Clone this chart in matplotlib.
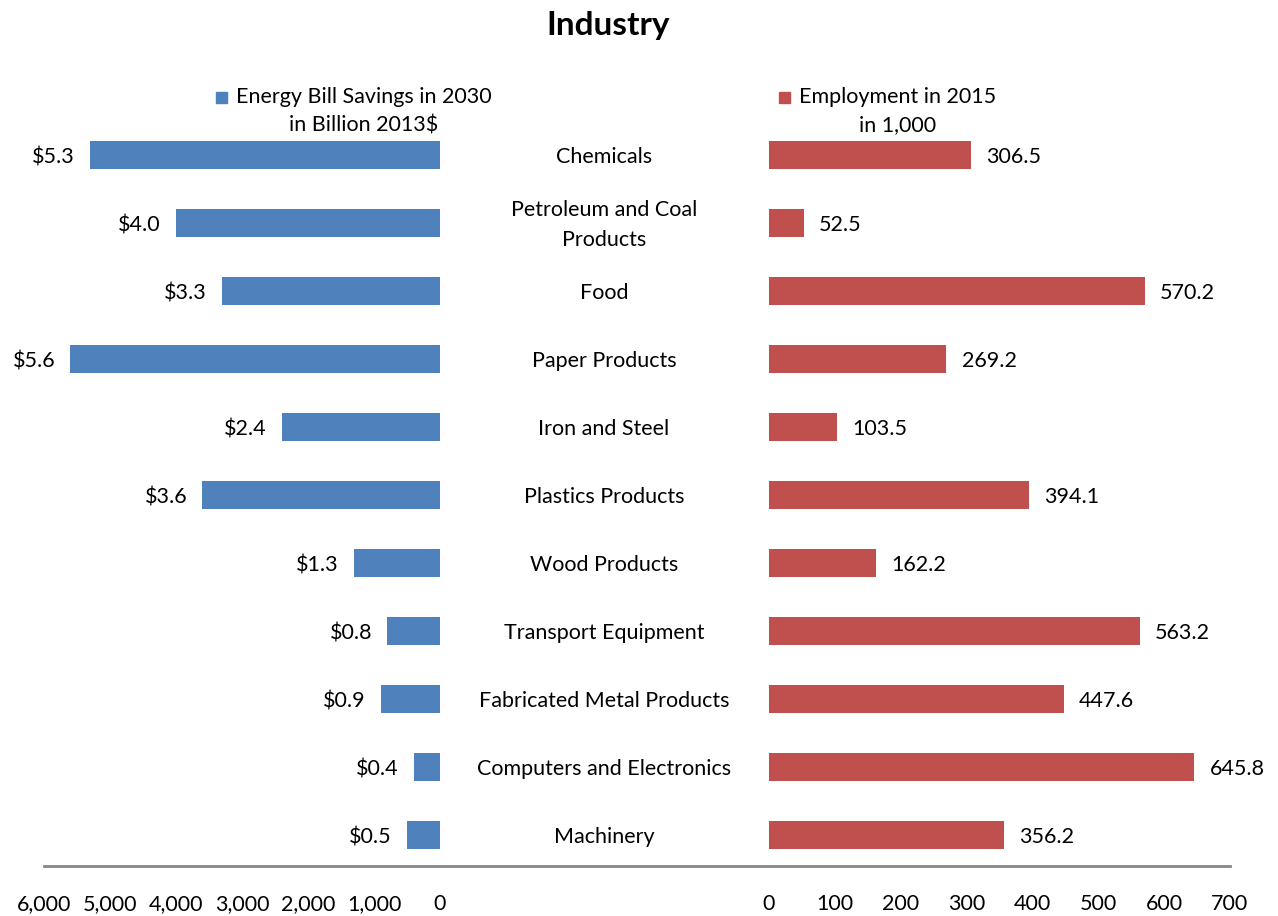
import matplotlib
matplotlib.use("Agg")
import matplotlib.pyplot as plt
from matplotlib.lines import Line2D
from matplotlib.patches import Rectangle
import numpy as np

categories = ["Chemicals", "Petroleum and Coal\nProducts", "Food", "Paper Products",
              "Iron and Steel", "Plastics Products", "Wood Products", "Transport Equipment",
              "Fabricated Metal Products", "Computers and Electronics", "Machinery"]
savings_billion = [5.3, 4.0, 3.3, 5.6, 2.4, 3.6, 1.3, 0.8, 0.9, 0.4, 0.5]
employment_thousand = [306.5, 52.5, 570.2, 269.2, 103.5, 394.1, 162.2, 563.2, 447.6, 645.8, 356.2]
left_ticks = [0, 1000, 2000, 3000, 4000, 5000, 6000]
right_ticks = [0, 100, 200, 300, 400, 500, 600, 700]
legend_left = "Energy Bill Savings in 2030\nin Billion 2013$"
legend_right = "Employment in 2015\nin 1,000"
title = "Industry"

BLUE = "#4F81BD"
RED = "#C0504D"
FONT = "Lato"
FS = 15.5
plt.rcParams['font.family'] = [FONT, 'DejaVu Sans']

W, H = 1278, 916
fig = plt.figure(figsize=(W / 100, H / 100), dpi=100)

def fx(px):
    return px / W

def fy(py):
    return 1 - py / H

top_px, bot_px = 121, 866
y = np.arange(len(categories))
ylim = (10.456, -0.5)

axL = fig.add_axes([fx(44), fy(bot_px), fx(440 - 44), fy(top_px) - fy(bot_px)])
axR = fig.add_axes([fx(769), fy(bot_px), fx(1230 - 769), fy(top_px) - fy(bot_px)])

vals_m = np.array(savings_billion) * 1000
axL.barh(y, vals_m, height=0.41, color=BLUE)
axL.set_xlim(6000, 0)
axL.set_ylim(*ylim)
axR.barh(y, employment_thousand, height=0.41, color=RED)
axR.set_xlim(0, 700)
axR.set_ylim(*ylim)

for ax in (axL, axR):
    for s in ax.spines.values():
        s.set_visible(False)
    ax.set_yticks([])
    ax.tick_params(axis='x', length=0, pad=20, labelsize=FS)
    ax.patch.set_alpha(0)

axL.set_xticks(left_ticks)
axL.set_xticklabels([f"{t:,}" for t in left_ticks])
axR.set_xticks(right_ticks)
axR.set_xticklabels([str(t) for t in right_ticks])

for i, v in enumerate(savings_billion):
    axL.annotate(f"${v:.1f}", (v * 1000, i), xytext=(-11, -1.5), textcoords="offset points",
                 ha="right", va="center", fontsize=FS)
for i, v in enumerate(employment_thousand):
    axR.annotate(f"{v:.1f}", (v, i), xytext=(11, -1.5), textcoords="offset points",
                 ha="left", va="center", fontsize=FS)

# category labels in the middle
for i, c in enumerate(categories):
    ypx = 157 + 68 * i
    fig.text(fx(604), fy(ypx), c, ha="center", va="center", fontsize=FS, linespacing=1.6)

# baseline
fig.add_artist(Line2D([fx(44), fx(1230)], [fy(866), fy(866)], color="#868686", lw=2))

# legends
fig.text(fx(364), fy(111), legend_left, ha="center", va="center", fontsize=FS,
         multialignment="center", linespacing=1.55)
fig.add_artist(Rectangle((fx(216), fy(103)), fx(11), fy(92) - fy(103), color=BLUE,
                         transform=fig.transFigure))
fig.text(fx(898), fy(111), legend_right, ha="center", va="center", fontsize=FS,
         multialignment="center", linespacing=1.55)
fig.add_artist(Rectangle((fx(779), fy(103)), fx(11), fy(92) - fy(103), color=RED,
                         transform=fig.transFigure))

fig.text(fx(608), fy(26), title, ha="center", va="center", fontsize=24, fontweight="bold")

fig.savefig("out.png", dpi=100)
